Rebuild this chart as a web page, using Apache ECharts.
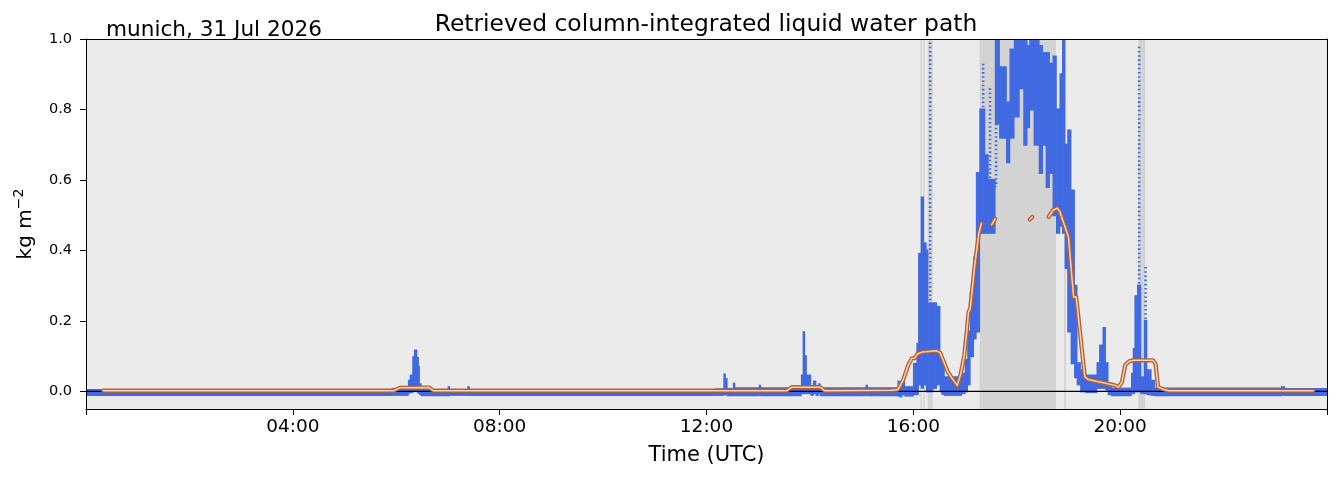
<!DOCTYPE html>
<html><head><meta charset="utf-8">
<script src="https://cdn.jsdelivr.net/npm/echarts@6/dist/echarts.min.js"></script>
<style>html,body{margin:0;padding:0;background:#fff}#c{width:1339px;height:478px}</style>
</head><body><div id="c"></div>
<script>
// ---- data (times UTC) ----
// retrieved LWP: per time bin (bin i runs from binStart[i] to binStart[i+1]) the min / max of the scattered retrievals
const binStart = ["00:00","05:55","06:14","06:16","06:19","06:21","06:24","06:25","06:27","06:29",
  "07:00","07:02","07:23","07:25","12:10","12:20","12:22","12:24","12:31","12:33",
  "13:01","13:03","13:50","13:52","13:54","13:56","14:01","14:04","14:07","14:10",
  "14:12","15:05","15:07","15:42","15:44","15:47","15:50","16:00","16:04","16:06",
  "16:09","16:12","16:15","16:17","16:23","16:27","16:31","16:33","16:36","16:56",
  "17:00","17:03","17:06","17:10","17:13","17:17","17:23","17:27","17:31","17:35",
  "17:40","17:48","17:52","17:57","18:03","18:08","18:12","18:15","18:20","18:26",
  "18:30","18:34","18:38","18:42","18:46","18:50","18:53","18:56","18:59","19:03",
  "19:07","19:10","19:14","19:20","19:33","19:36","19:40","19:43","19:46","19:50",
  "20:13","20:15","20:17","20:20","20:24","20:28","20:31","20:36","20:40","23:07",
  "23:11","24:00"];
const binLo = [-0.010,-0.010,-0.004,-0.002,0.000,0.004,0.000,-0.004,-0.008,-0.011,
  -0.011,-0.010,-0.010,-0.010,-0.010,-0.008,-0.008,-0.011,-0.010,-0.011,
  -0.010,-0.011,-0.005,-0.005,-0.005,-0.005,-0.010,-0.005,-0.010,-0.005,
  -0.011,-0.010,-0.011,-0.012,-0.014,-0.008,-0.012,-0.008,-0.007,0.020,
  0.010,0.020,0.000,0.000,0.010,0.020,0.000,-0.007,-0.010,-0.005,
  0.000,0.020,0.100,0.150,0.170,0.450,0.450,0.450,0.450,0.760,
  0.720,0.650,0.720,0.780,0.860,0.700,0.750,0.800,0.700,0.620,
  0.700,0.580,0.620,0.500,0.450,0.470,0.450,0.350,0.170,0.080,
  0.040,0.020,0.000,-0.002,0.010,0.010,0.010,0.005,-0.008,-0.011,
  -0.005,-0.005,0.000,0.000,-0.005,-0.005,-0.008,-0.010,-0.011,-0.010,
  -0.010,null];
const binHi = [0.004,0.007,0.030,0.045,0.097,0.116,0.095,0.070,0.020,0.004,
  0.012,0.004,0.012,0.004,0.006,0.048,0.035,0.007,0.022,0.009,
  0.016,0.009,0.045,0.168,0.100,0.045,0.009,0.028,0.009,0.020,
  0.009,0.016,0.009,0.028,0.009,0.026,0.012,0.078,0.135,0.390,
  0.550,0.420,0.400,0.250,0.250,0.240,0.100,0.078,0.040,0.050,
  0.090,0.170,0.280,0.380,0.620,0.800,0.670,0.600,0.600,1.000,
  0.920,0.820,0.970,1.000,1.000,1.000,0.980,1.000,1.000,0.980,
  0.960,0.960,0.930,0.950,0.800,0.900,1.000,0.700,0.740,0.570,
  0.300,0.080,0.060,0.045,0.080,0.130,0.180,0.080,0.012,0.008,
  0.050,0.120,0.270,0.300,0.040,0.200,0.060,0.030,0.008,0.012,
  0.007,null];
// sparse (dotted) retrieval columns
const sparseTime = ["16:19:30","17:21","17:29","17:36","20:22","20:29:30"];
const sparseLo = [0.25,0.80,0.60,0.58,0.30,0.20];
const sparseHi = [0.99,0.93,0.86,0.76,0.978,0.353];
// smoothed LWP (null = gap)
const meanTime = ["00:20","05:57","06:04","06:38","06:43","13:33","13:39","14:12","14:17","15:35",
  "15:42","15:48","15:54","15:58","16:02","16:05","16:11","16:27","16:31","16:37",
  "16:40","16:45","16:51","16:55","16:59","17:02","17:04","17:06","17:11","17:16",
  "17:19","17:25","17:31","17:35","17:45","18:15","18:18","18:30","18:37","18:42",
  "18:47","18:50","18:56","19:00","19:06","19:09","19:19","19:23","19:54","19:58",
  "20:02","20:06","20:11","20:15","20:38","20:41","20:44","20:50","20:56","23:44"];
const meanLwp = [0.002,0.002,0.010,0.011,0.002,0.002,0.012,0.012,0.002,0.003,
  0.005,0.031,0.074,0.093,0.095,0.107,0.112,0.115,0.110,0.074,
  0.055,0.037,0.017,0.050,0.100,0.170,0.225,0.235,0.353,0.448,
  0.477,null,0.473,0.490,null,0.488,0.495,null,0.495,0.514,
  0.520,0.510,0.467,0.438,0.268,0.268,0.041,0.034,0.017,0.012,
  0.026,0.076,0.086,0.088,0.088,0.079,0.012,0.006,0.002,0.002];
// flagged (shaded) periods
const flagStart = ["16:08","16:11:30","16:16:40","17:17","18:55","20:21"];
const flagEnd = ["16:09:40","16:13:10","16:22:30","18:45:30","18:57","20:29"];
const xTickHours = [0,4,8,12,16,20,24];
const yTicks = [0.0,0.2,0.4,0.6,0.8,1.0];

// ---- build ----
function hrs(s){const p=s.split(':').map(Number);return p[0]+p[1]/60+(p[2]||0)/3600;}
const FONT='DejaVu Sans';
const Y0=-0.05, Y1=1.0;
const blueItems=[];
for(let i=0;i<binStart.length-1;i++){
  if(binLo[i]==null) continue;
  blueItems.push([hrs(binStart[i]),hrs(binStart[i+1]),binLo[i],binHi[i]]);
}
const sparseItems=sparseTime.map((t,i)=>[hrs(t),sparseLo[i],sparseHi[i]]);
const meanData=meanTime.map((t,i)=>[hrs(t),meanLwp[i]==null?'-':meanLwp[i]]);
const flagItems=flagStart.map((t,i)=>[hrs(t),hrs(flagEnd[i])]);
const BLUE='#4169e1';

const chart=echarts.init(document.getElementById('c'),null,{renderer:'canvas'});
chart.setOption({
  animation:false,
  backgroundColor:'#ffffff',
  textStyle:{fontFamily:FONT},
  title:[
    {text:'Retrieved column-integrated liquid water path',left:701,top:8,textAlign:'center',
     textStyle:{fontFamily:FONT,fontSize:23.4,fontWeight:'normal',color:'#000'}},
    {text:'munich, 31 Jul 2026',left:101,top:14,
     textStyle:{fontFamily:FONT,fontSize:21.6,fontWeight:'normal',color:'#000'}}
  ],
  grid:{left:86,right:12,top:39,bottom:69,show:true,backgroundColor:'#ebebeb',borderWidth:0,containLabel:false,outerBoundsMode:'none'},
  xAxis:[{
    type:'value',min:0,max:24,interval:4,position:'bottom',z:10,
    axisLine:{show:true,onZero:false,lineStyle:{color:'#000',width:1}},
    axisTick:{show:true,length:6,lineStyle:{color:'#000',width:1}},
    axisLabel:{fontFamily:FONT,fontSize:18.5,color:'#000',margin:9,
      formatter:v=>(v===0||v===24)?'':String(v).padStart(2,'0')+':00'},
    splitLine:{show:false},
    name:'Time (UTC)',nameLocation:'middle',nameGap:36,
    nameTextStyle:{fontFamily:FONT,fontSize:21,color:'#000'}
  },{
    type:'value',min:0,max:24,position:'top',z:10,
    axisLine:{show:true,onZero:false,lineStyle:{color:'#000',width:1}},
    axisTick:{show:false},axisLabel:{show:false},splitLine:{show:false}
  }],
  yAxis:[{
    type:'value',min:Y0,max:Y1,position:'left',z:10,
    axisLine:{show:true,onZero:false,lineStyle:{color:'#000',width:1}},
    axisTick:{show:true,length:6,customValues:yTicks,lineStyle:{color:'#000',width:1}},
    axisLabel:{fontFamily:FONT,fontSize:14.5,color:'#000',margin:14,customValues:yTicks,
      formatter:v=>Number(v).toFixed(1)},
    splitLine:{show:false},
    name:'{a|kg m}{b|\u22122}',nameLocation:'middle',nameGap:50,nameRotate:90,
    nameTextStyle:{fontFamily:FONT,fontSize:20,color:'#000',
      rich:{a:{fontFamily:FONT,fontSize:20,color:'#000',lineHeight:24,verticalAlign:'bottom'},
            b:{fontFamily:FONT,fontSize:14,color:'#000',lineHeight:16,verticalAlign:'top'}}}
  },{
    type:'value',min:Y0,max:Y1,position:'right',z:10,
    axisLine:{show:true,onZero:false,lineStyle:{color:'#000',width:1}},
    axisTick:{show:false},axisLabel:{show:false},splitLine:{show:false}
  }],
  series:[
    {type:'custom',name:'flag',z:1,clip:true,data:flagItems,encode:{x:[0,1]},
     renderItem:(p,api)=>{
       const a=api.coord([api.value(0),Y1]);const b=api.coord([api.value(1),Y0]);
       return {type:'rect',shape:{x:a[0],y:a[1],width:Math.max(b[0]-a[0],1.2),height:b[1]-a[1]},style:{fill:'#d3d3d3'}};
     }},
    {type:'custom',name:'lwp',z:2,clip:true,data:blueItems,encode:{x:[0,1],y:[2,3]},
     renderItem:(p,api)=>{
       const a=api.coord([api.value(0),api.value(3)]);const b=api.coord([api.value(1),api.value(2)]);
       return {type:'rect',shape:{x:a[0]-0.4,y:a[1]-1,width:Math.max(b[0]-a[0],1.6)+0.8,height:b[1]-a[1]+2},style:{fill:BLUE}};
     }},
    {type:'custom',name:'lwp sparse',z:2,clip:true,data:sparseItems,encode:{x:0,y:[1,2]},
     renderItem:(p,api)=>{
       const a=api.coord([api.value(0),api.value(2)]);const b=api.coord([api.value(0),api.value(1)]);
       return {type:'line',shape:{x1:a[0],y1:a[1],x2:b[0],y2:b[1]},style:{stroke:BLUE,lineWidth:2.6,lineDash:[1.6,2.6]}};
     }},
    {type:'line',name:'zero',z:3,data:[[0,0],[24,0]],symbol:'none',silent:true,
     lineStyle:{color:'#000',width:1.2}},
    {type:'line',name:'mean outer',z:4,data:meanData,symbol:'none',connectNulls:false,
     lineStyle:{color:'#b5602f',width:4.2,cap:'round',join:'round'}},
    {type:'line',name:'mean inner',z:5,data:meanData,symbol:'none',connectNulls:false,
     lineStyle:{color:'#f7d3b6',width:1.5,cap:'round',join:'round'}}
  ]
});
</script></body></html>
